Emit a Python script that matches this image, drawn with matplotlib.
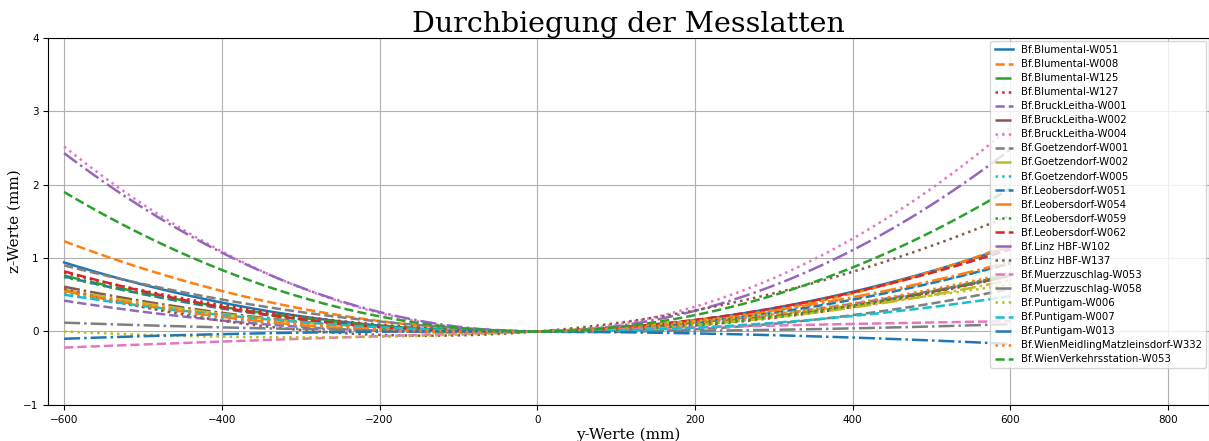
import numpy as np
import matplotlib
matplotlib.use("Agg")
import matplotlib.pyplot as plt

# Messlatten und gemessene Durchbiegung an den Enden (z bei y=-600 und y=+600, in mm)
namen = [
    "Bf.Blumental-W051", "Bf.Blumental-W008", "Bf.Blumental-W125", "Bf.Blumental-W127",
    "Bf.BruckLeitha-W001", "Bf.BruckLeitha-W002", "Bf.BruckLeitha-W004",
    "Bf.Goetzendorf-W001", "Bf.Goetzendorf-W002", "Bf.Goetzendorf-W005",
    "Bf.Leobersdorf-W051", "Bf.Leobersdorf-W054", "Bf.Leobersdorf-W059", "Bf.Leobersdorf-W062",
    "Bf.Linz HBF-W102", "Bf.Linz HBF-W137",
    "Bf.Muerzzuschlag-W053", "Bf.Muerzzuschlag-W058",
    "Bf.Puntigam-W006", "Bf.Puntigam-W007", "Bf.Puntigam-W013",
    "Bf.WienMeidlingMatzleinsdorf-W332", "Bf.WienVerkehrsstation-W053",
]
z_links = [0.94, 1.23, 0.76, 0.80, 0.42, 0.61, 2.52, 0.90, 0.57, 0.52, 0.75, 0.55,
           0.74, 0.82, 2.43, 0.58, -0.22, 0.12, 0.00, 0.50, -0.10, 0.55, 1.90]
z_rechts = [1.16, 1.18, 0.78, 0.76, 0.76, 0.76, 2.78, 0.58, 0.70, 0.92, 0.93, 0.95,
            0.78, 1.12, 2.48, 1.58, 0.14, 0.10, 0.64, 0.48, -0.17, 0.80, 1.95]

y = np.linspace(-600, 600, 121)

fig, ax = plt.subplots(figsize=(12.09, 4.41), dpi=100)
fig.subplots_adjust(left=0.04, right=1.0, top=0.914, bottom=0.082)

stile = ["--", "-.", ":"]
for i, (name, zl, zr) in enumerate(zip(namen, z_links, z_rechts)):
    # Parabel durch (0,0), (-600,zl), (600,zr)
    a = (zl + zr) / (2 * 600**2)
    b = (zr - zl) / 1200
    z = a * y**2 + b * y
    ls = "-" if i == 0 else stile[(i - 1) % 3]
    ax.plot(y, z, ls, lw=1.8, color=f"C{i % 10}", label=name)

ax.set_xlim(-620, 852)
ax.set_ylim(-1, 4)
ax.set_yticks([-1, 0, 1, 2, 3, 4])
ax.tick_params(labelsize=7.5)
ax.grid(True)
ax.set_title("Durchbiegung der Messlatten", family="DejaVu Serif", fontsize=20.5, pad=4)
ax.set_xlabel("y-Werte (mm)", family="DejaVu Serif", fontsize=11, labelpad=2)
ax.set_ylabel("z-Werte (mm)", family="DejaVu Serif", fontsize=11, labelpad=1)
ax.legend(loc="upper right", fontsize=7.3, borderaxespad=0.3, labelspacing=0.4,
          handlelength=1.8)

fig.savefig("out.png")
